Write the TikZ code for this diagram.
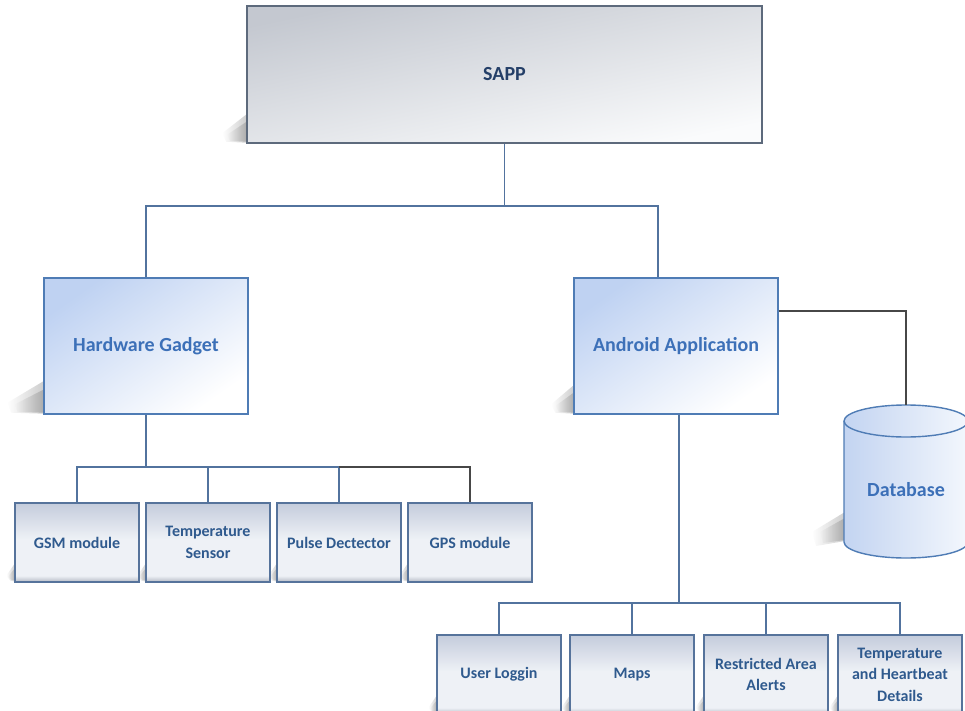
\documentclass[tikz,border=0pt]{standalone}
\usepackage{fontspec}
\setmainfont{Carlito}
\usetikzlibrary{calc,fadings,backgrounds}

\definecolor{sappline}{HTML}{5D6A7C}
\definecolor{sapptop}{HTML}{C4C8D0}
\definecolor{sappmid}{HTML}{DCE0E7}
\definecolor{sappbot}{HTML}{FAFBFC}
\definecolor{sapptext}{HTML}{243F68}
\definecolor{bigline}{HTML}{4F7CB5}
\definecolor{bigtop}{HTML}{BFD2F2}
\definecolor{bigtext}{HTML}{3C70B8}
\definecolor{smallline}{HTML}{56739B}
\definecolor{smalltop}{HTML}{C4CCDC}
\definecolor{smallmid}{HTML}{EEF1F6}
\definecolor{smallbot}{HTML}{B4BAC4}
\definecolor{smalltext}{HTML}{2F5A8E}
\definecolor{dbleft}{HTML}{C3D4F1}
\definecolor{dbright}{HTML}{F3F7FD}
\definecolor{linkblue}{HTML}{52739E}
\definecolor{linkdark}{HTML}{474747}
\definecolor{shadowgray}{HTML}{6E6E6E}

% grey band at the foot of the small boxes, bluish grey at the top
\pgfdeclareverticalshading{smallfill}{100bp}{color(0bp)=(smallbot); color(25bp)=(smallbot); color(29bp)=(smallmid); color(52bp)=(smallmid); color(75bp)=(smalltop); color(100bp)=(smalltop)}

\tikzfading[name=shadowfade, left color=transparent!100, right color=transparent!0]

% soft shadow falling to the lower left of a box
\newcommand\boxshade[3]{%
  \fill[shadowgray, path fading=shadowfade, opacity=.35]
    ($(#1.south west)+(1,-1)$) -- ($(#1.south west)+(1,-#3)$)
    -- ($(#1.south west)+(-#2,-0.35*#3)$) -- ($(#1.south west)+(-#2+4,-2)$) -- cycle;
  \fill[shadowgray, path fading=shadowfade, opacity=.35]
    ($(#1.south west)+(1,-2)$) -- ($(#1.south west)+(1,-0.75*#3)$)
    -- ($(#1.south west)+(-0.8*#2,-0.3*#3)$) -- ($(#1.south west)+(-0.8*#2+3,-3)$) -- cycle;}

\tikzset{
  sappbox/.style={draw=sappline, line width=1.5pt, minimum width=515pt, minimum height=137pt,
    top color=sapptop, middle color=sappmid, bottom color=sappbot, shading angle=12,
    text=sapptext, font=\bfseries\fontsize{20}{24}\selectfont},
  bigbox/.style={draw=bigline, line width=1.4pt, minimum width=204pt, minimum height=136pt,
    top color=bigtop, bottom color=white, shading angle=35, text=bigtext,
    font=\bfseries\fontsize{20}{24}\selectfont},
  smallbox/.style={draw=smallline, line width=1.3pt, minimum width=124pt, minimum height=79pt,
    shade, shading=smallfill, text=smalltext, align=center, inner sep=2pt,
    font=\bfseries\fontsize{16}{21.5}\selectfont},
  dbbody/.style={draw=bigline, line width=1.4pt, left color=dbleft, right color=dbright},
  dbline/.style={draw=bigline, line width=1.4pt},
  dbtext/.style={text=bigtext, font=\bfseries\fontsize{20}{24}\selectfont},
  link/.style={draw=linkblue, line width=1.4pt},
  darklink/.style={draw=linkdark, line width=1.4pt}
}

\begin{document}
\begin{tikzpicture}[x=1pt,y=-1pt]
\useasboundingbox (0,0) rectangle (965,711);

% boxes
\node[sappbox] (sapp) at (504.5,74.5) {SAPP};
\node[bigbox] (hw) at (146,346) {Hardware Gadget};
\node[bigbox] (aa) at (676,346) {Android Application};

\node[smallbox] (gsm) at (77,542.5) {GSM module};
\node[smallbox] (tsens) at (208,542.5) {Temperature\\Sensor};
\node[smallbox] (pulse) at (339,542.5) {Pulse Dectector};
\node[smallbox] (gps) at (470,542.5) {GPS module};

\node[smallbox] (login) at (499,674.5) {User Loggin};
\node[smallbox] (maps) at (632,674.5) {Maps};
\node[smallbox] (alerts) at (766,674.5) {Restricted Area\\Alerts};
\node[smallbox] (details) at (900,674.5) {Temperature\\and Heartbeat\\Details};

% database cylinder
\coordinate (dbtop) at (906,405);
\path[dbbody] (844,421) -- (844,542)
  arc[start angle=180, end angle=0, x radius=62, y radius=16]
  -- (968,421) arc[start angle=0, end angle=-180, x radius=62, y radius=16] -- cycle;
\draw[dbline] (844,421) arc[start angle=180, end angle=0, x radius=62, y radius=16];
\node[dbtext] (db) at (906,490) {Database};

% connectors
\coordinate (topbus) at (504.5,206);
\draw[link] (sapp.south) -- (topbus);
\draw[link] (hw.north) |- (topbus) -| ([xshift=-18pt]aa.north);

\coordinate (hwbus) at (146,467);
\draw[link] (hw.south) -- (hwbus);
\draw[link] (gsm.north) |- (hwbus) -- (pulse.north |- hwbus) -- (pulse.north);
\draw[link] (tsens.north) -- (tsens.north |- hwbus);
\draw[darklink] (pulse.north |- hwbus) -| (gps.north);

\coordinate (aabus) at (679,603);
\draw[link] ([xshift=3pt]aa.south) -- (aabus);
\draw[link] (login.north) |- (details.north |- aabus) -- (details.north);
\draw[link] (maps.north) -- (maps.north |- aabus);
\draw[link] (alerts.north) -- (alerts.north |- aabus);
\draw[darklink] ([yshift=35pt]aa.east) -| (dbtop);

% soft shadows behind the boxes
\begin{scope}[on background layer]
  \fill[white] (0,0) rectangle (965,711);
  \boxshade{sapp}{24}{30}
  \boxshade{hw}{36}{34}
  \boxshade{aa}{22}{30}
  \boxshade{gsm}{8}{20}
  \boxshade{tsens}{8}{20}
  \boxshade{pulse}{8}{20}
  \boxshade{gps}{8}{20}
  \boxshade{login}{8}{20}
  \boxshade{maps}{8}{20}
  \boxshade{alerts}{8}{20}
  \boxshade{details}{8}{20}
  \fill[shadowgray, path fading=shadowfade, opacity=.35]
    (845,541) -- (845,512) -- (812,532) -- (816,546) -- cycle;
  \fill[shadowgray, path fading=shadowfade, opacity=.35]
    (845,540) -- (845,518) -- (820,532) -- (823,543) -- cycle;
\end{scope}
\end{tikzpicture}
\end{document}
